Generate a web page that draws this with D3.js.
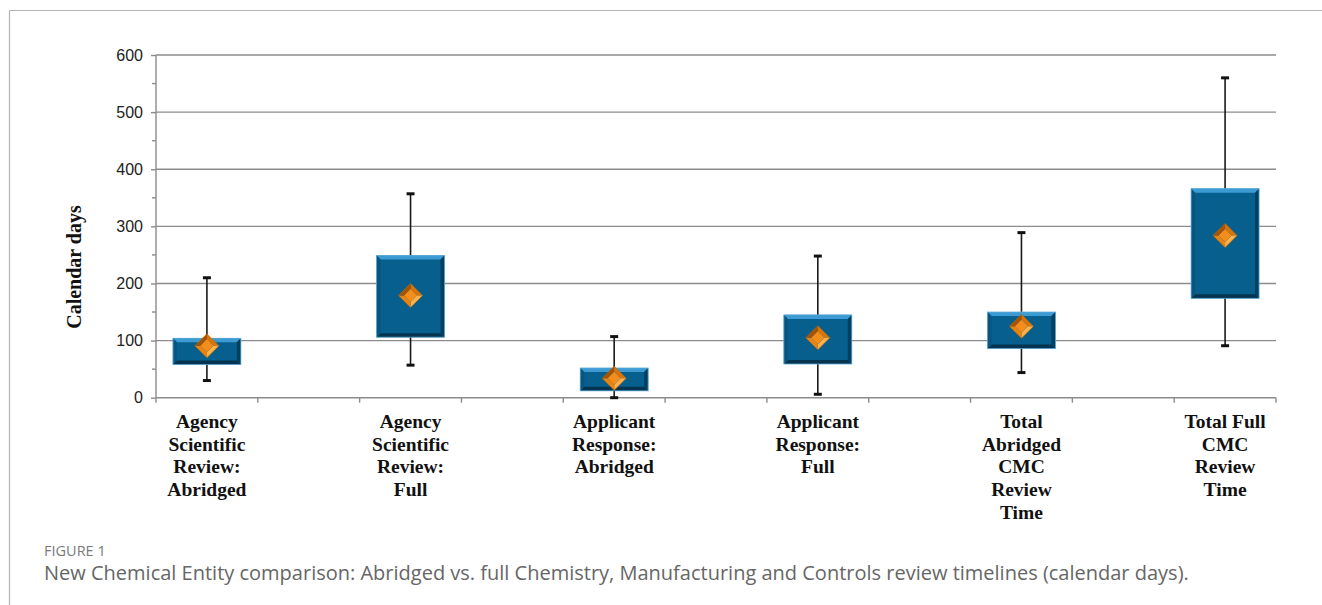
<!DOCTYPE html>
<html>
<head>
<meta charset="utf-8">
<script src="https://cdn.jsdelivr.net/npm/d3@7"></script>
<style>
  html, body { margin: 0; padding: 0; background: #fff; }
  svg { display: block; }
</style>
</head>
<body>
<svg id="chart" width="1322" height="605"></svg>
<script>
// ---- data ----
const categories = [
  "Agency Scientific Review: Abridged",
  "Agency Scientific Review: Full",
  "Applicant Response: Abridged",
  "Applicant Response: Full",
  "Total Abridged CMC Review Time",
  "Total Full CMC Review Time"
];
const labelLines = [
  ["Agency", "Scientific", "Review:", "Abridged"],
  ["Agency", "Scientific", "Review:", "Full"],
  ["Applicant", "Response:", "Abridged"],
  ["Applicant", "Response:", "Full"],
  ["Total", "Abridged", "CMC", "Review", "Time"],
  ["Total Full", "CMC", "Review", "Time"]
];
const whiskerMin = [30, 57, 0, 6, 44, 91];
const q1Values   = [58, 106, 12, 59, 86, 174];
const q3Values   = [104, 249, 52, 145, 150, 366];
const whiskerMax = [210, 357, 107, 248, 289, 560];
const meanValues = [91, 179, 34, 105, 125, 284];
const yTicks = [0, 100, 200, 300, 400, 500, 600];
const yMinorTicks = [50, 150, 250, 350, 450, 550];
const yTitle = "Calendar days";
const figLabel = "FIGURE 1";
const caption = "New Chemical Entity comparison: Abridged vs. full Chemistry, Manufacturing and Controls review timelines (calendar days).";

// ---- layout ----
const svg = d3.select("#chart");
const plot = { left: 156, right: 1276, top: 55, bottom: 397.7 };
const nSlots = categories.length * 2 - 1;

const x = d3.scaleBand().domain(d3.range(nSlots)).range([plot.left, plot.right]).padding(0);
const y = d3.scaleLinear().domain([0, 600]).range([plot.bottom, plot.top]);

const gridColor = "#8c8c8c";

// frame
svg.append("line").attr("x1", 9.5).attr("x2", 1322).attr("y1", 10.5).attr("y2", 10.5)
  .attr("stroke", "#b4b4b4").attr("stroke-width", 1.2);
svg.append("line").attr("x1", 9.5).attr("x2", 9.5).attr("y1", 10.5).attr("y2", 605)
  .attr("stroke", "#b4b4b4").attr("stroke-width", 1.2);

// gridlines
svg.append("g").selectAll("line").data(yTicks.filter(d => d > 0)).join("line")
  .attr("x1", plot.left).attr("x2", plot.right)
  .attr("y1", d => y(d)).attr("y2", d => y(d))
  .attr("stroke", gridColor).attr("stroke-width", 1.4);

// y axis
const yAxis = d3.axisLeft(y).tickValues(yTicks).tickSize(5).tickPadding(8).tickFormat(d3.format("d"));
const gy = svg.append("g").attr("transform", `translate(${plot.left},0)`).call(yAxis);
gy.select(".domain").attr("stroke", gridColor).attr("stroke-width", 1.4).attr("d", `M0,${plot.bottom}V${plot.top}`);
gy.selectAll(".tick line").attr("stroke", gridColor).attr("stroke-width", 1.4);
gy.selectAll(".tick text").attr("font-family", "Liberation Sans, Arial, sans-serif")
  .attr("font-size", 16).attr("fill", "#222");
// minor ticks
svg.append("g").selectAll("line").data(yMinorTicks).join("line")
  .attr("x1", plot.left - 4).attr("x2", plot.left)
  .attr("y1", d => y(d)).attr("y2", d => y(d))
  .attr("stroke", gridColor).attr("stroke-width", 1.4);

// x axis
const tickPositions = d3.range(nSlots + 1).map(i => plot.left + i * x.bandwidth());
svg.append("line").attr("x1", plot.left).attr("x2", plot.right)
  .attr("y1", plot.bottom).attr("y2", plot.bottom)
  .attr("stroke", gridColor).attr("stroke-width", 1.4);
svg.append("g").selectAll("line").data(tickPositions).join("line")
  .attr("x1", d => d).attr("x2", d => d)
  .attr("y1", plot.bottom).attr("y2", plot.bottom + 5)
  .attr("stroke", gridColor).attr("stroke-width", 1.4);

// y title
svg.append("text")
  .attr("transform", `translate(81,267) rotate(-90)`)
  .attr("text-anchor", "middle")
  .attr("font-family", "Liberation Serif, Times New Roman, serif")
  .attr("font-weight", "bold").attr("font-size", 20).attr("fill", "#111")
  .text(yTitle);

// x labels
const boxCenter = i => x(i * 2) + x.bandwidth() / 2;
const lbl = svg.append("g");
categories.forEach((c, i) => {
  const t = lbl.append("text")
    .attr("text-anchor", "middle")
    .attr("font-family", "Liberation Serif, Times New Roman, serif")
    .attr("font-weight", "bold").attr("font-size", 19.5).attr("fill", "#111");
  labelLines[i].forEach((ln, j) => {
    t.append("tspan").attr("x", boxCenter(i)).attr("y", 428 + j * 22.7).text(ln);
  });
});

// boxes
const boxW = x.bandwidth() * 0.667;
const bev = 4;
const boxes = svg.append("g");
categories.forEach((c, i) => {
  const cx = boxCenter(i);
  const g = boxes.append("g");
  // whisker behind
  g.append("line").attr("x1", cx).attr("x2", cx)
    .attr("y1", y(whiskerMax[i])).attr("y2", y(whiskerMin[i]))
    .attr("stroke", "#1a1a1a").attr("stroke-width", 1.6);
  [whiskerMax[i], whiskerMin[i]].forEach(v => {
    g.append("line").attr("x1", cx - 4).attr("x2", cx + 4)
      .attr("y1", y(v)).attr("y2", y(v))
      .attr("stroke", "#111").attr("stroke-width", 3);
  });
  const x0 = cx - boxW / 2, x1 = cx + boxW / 2;
  const yt = y(q3Values[i]), yb = y(q1Values[i]);
  g.append("rect").attr("x", x0).attr("y", yt).attr("width", boxW).attr("height", yb - yt)
    .attr("fill", "#075f8e");
  // bevels
  const poly = (pts, fill) => g.append("polygon").attr("points", pts.map(p => p.join(",")).join(" ")).attr("fill", fill);
  poly([[x0, yt], [x1, yt], [x1 - bev, yt + bev], [x0 + bev, yt + bev]], "#3d9bd3");
  poly([[x0, yb], [x1, yb], [x1 - bev, yb - bev], [x0 + bev, yb - bev]], "#04344f");
  poly([[x0, yt], [x0 + bev, yt + bev], [x0 + bev, yb - bev], [x0, yb]], "#0a5580");
  poly([[x1, yt], [x1 - bev, yt + bev], [x1 - bev, yb - bev], [x1, yb]], "#053f60");
  g.append("rect").attr("x", x0).attr("y", yt).attr("width", boxW).attr("height", yb - yt)
    .attr("fill", "none").attr("stroke", "#5aaad6").attr("stroke-width", 0.8);
});

// diamonds (means)
const R = 12, r = 6.5;
categories.forEach((c, i) => {
  const cx = boxCenter(i), cy = y(meanValues[i]);
  const g = svg.append("g");
  const O = [[cx, cy - R], [cx + R, cy], [cx, cy + R], [cx - R, cy]];
  const I = [[cx, cy - r], [cx + r, cy], [cx, cy + r], [cx - r, cy]];
  const fills = ["#ffb24a", "#e8840f", "#a85200", "#d87408"];
  for (let k = 0; k < 4; k++) {
    const k2 = (k + 1) % 4;
    g.append("polygon")
      .attr("points", [O[k], O[k2], I[k2], I[k]].map(p => p.join(",")).join(" "))
      .attr("fill", fills[(k + 3) % 4]);
  }
  g.append("polygon").attr("points", I.map(p => p.join(",")).join(" ")).attr("fill", "#f38d1c");
  g.append("polygon").attr("points", O.map(p => p.join(",")).join(" "))
    .attr("fill", "none").attr("stroke", "#c46a08").attr("stroke-width", 0.6);
});

// caption
svg.append("text").attr("x", 44).attr("y", 556)
  .attr("font-family", "Open Sans, sans-serif").attr("font-size", 14.5)
  .attr("fill", "#7a7a7a").text(figLabel);
svg.append("text").attr("x", 44).attr("y", 580)
  .attr("font-family", "Open Sans, sans-serif").attr("font-size", 20)
  .attr("fill", "#666").text(caption);
</script>
</body>
</html>
